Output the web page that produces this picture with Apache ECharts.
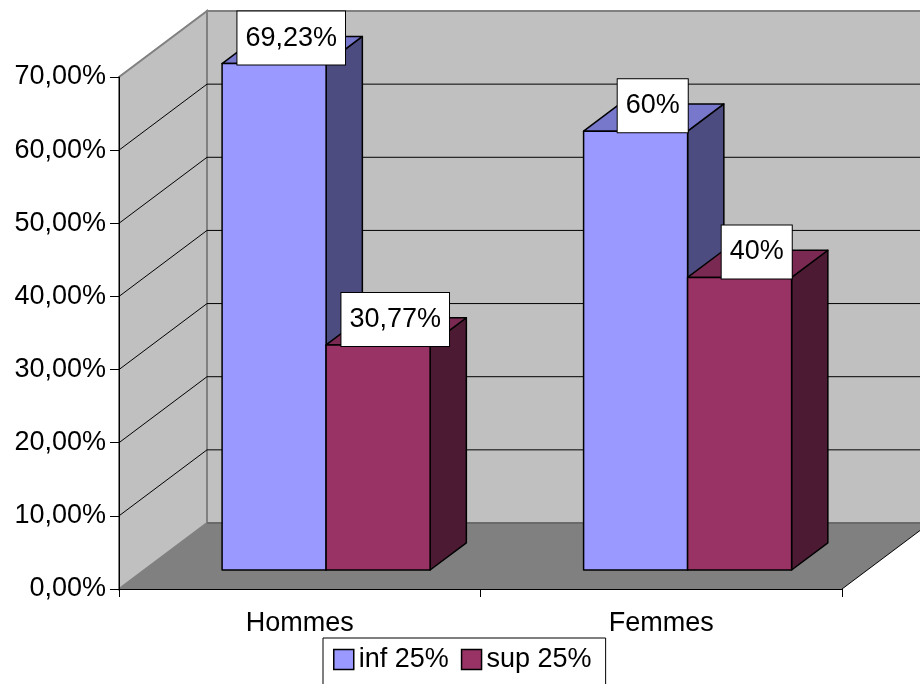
<!DOCTYPE html>
<html>
<head>
<meta charset="utf-8">
<script src="https://cdn.jsdelivr.net/npm/echarts@6/dist/echarts.min.js"></script>
<style>
  html, body { margin: 0; padding: 0; background: #fff; }
  #chart { width: 920px; height: 684px; }
</style>
</head>
<body>
<div id="chart"></div>
<script>
// Share of each group below / above 25 %, in percent
const categories = ['Hommes', 'Femmes'];
const seriesNames = ['inf 25%', 'sup 25%'];
const infValues = [69.23, 60];
const supValues = [30.77, 40];
const yTicks = [0, 10, 20, 30, 40, 50, 60, 70];

const FONT = '"Liberation Sans", Arial, sans-serif';
const DEPTH = [88, -66];      // screen shift from the front plane to the back wall
const BAR_Z = [0.288, 0.70];  // bar front and back, as fractions of the depth
const BAR_W = 0.2877;         // one bar's width as a fraction of a category band

const palettes = [
  { front: '#9999FF', top: '#7777CC', side: '#4C4C80' },
  { front: '#993366', top: '#7A2952', side: '#4D1A33' }
];

function fmtAxis(v) { return v.toFixed(2).replace('.', ',') + '%'; }
function fmtLabel(v) { return String(v).replace('.', ',') + '%'; }

function shift(p, z) { return [p[0] + DEPTH[0] * z, p[1] + DEPTH[1] * z]; }

// Side walls, floor and the gridlines painted on them
function renderWalls(params, api) {
  const cs = params.coordSys;
  const x0 = cs.x, x1 = cs.x + cs.width;
  const yB = api.coord([0, yTicks[0]])[1];
  const yT = api.coord([0, yTicks[yTicks.length - 1]])[1];
  const dx = DEPTH[0], dy = DEPTH[1];
  const children = [];
  // back wall
  children.push({ type: 'polygon', shape: { points: [[x0 + dx, yB + dy], [x1 + dx, yB + dy], [x1 + dx, yT + dy], [x0 + dx, yT + dy]] },
    style: { fill: '#C0C0C0', stroke: '#808080', lineWidth: 2 } });
  // left wall
  children.push({ type: 'polygon', shape: { points: [[x0, yB], [x0 + dx, yB + dy], [x0 + dx, yT + dy], [x0, yT]] },
    style: { fill: '#C0C0C0', stroke: '#808080', lineWidth: 2 } });
  // gridlines
  yTicks.slice(1, -1).forEach(function (t) {
    const y = api.coord([0, t])[1];
    children.push({ type: 'polyline', shape: { points: [[x0, y], [x0 + dx, y + dy], [x1 + dx, y + dy]] },
      style: { stroke: '#000', lineWidth: 1, fill: null } });
  });
  // floor
  children.push({ type: 'polygon', shape: { points: [[x0, yB], [x1, yB], [x1 + dx, yB + dy], [x0 + dx, yB + dy]] },
    style: { fill: '#808080', stroke: null } });
  children.push({ type: 'line', shape: { x1: x0 + dx, y1: yB + dy, x2: x1 + dx, y2: yB + dy },
    style: { stroke: '#6A6A6A', lineWidth: 2 } });
  children.push({ type: 'line', shape: { x1: x1, y1: yB, x2: x1 + dx, y2: yB + dy },
    style: { stroke: '#000', lineWidth: 1 } });
  return { type: 'group', children: children };
}

// 3D prism for one bar, plus its value box
function makeBarRenderer(k) {
  const pal = palettes[k];
  return function (params, api) {
    const i = api.value(0), v = api.value(1);
    const base = api.coord([i, 0]);
    const top = api.coord([i, v]);
    const band = api.size([1, 0])[0];
    const w = band * BAR_W;
    const L = base[0] + 1 + (k === 0 ? -w : 0), R = L + w;
    const B = base[1], T = top[1];
    const zf = BAR_Z[0], zb = BAR_Z[1];
    const fLB = shift([L, B], zf), fRB = shift([R, B], zf), fRT = shift([R, T], zf), fLT = shift([L, T], zf);
    const bRB = shift([R, B], zb), bRT = shift([R, T], zb), bLT = shift([L, T], zb);
    const edge = { stroke: '#000', lineWidth: 1.5, lineJoin: 'round' };
    const cx = (fLT[0] + fRT[0]) / 2 + (bRT[0] - fRT[0]) / 2 - 1;
    return {
      type: 'group',
      children: [
        { type: 'polygon', shape: { points: [fRB, bRB, bRT, fRT] }, style: Object.assign({ fill: pal.side }, edge) },
        { type: 'polygon', shape: { points: [fLT, fRT, bRT, bLT] }, style: Object.assign({ fill: pal.top }, edge) },
        { type: 'polygon', shape: { points: [fLB, fRB, fRT, fLT] }, style: Object.assign({ fill: pal.front }, edge) },
        { type: 'text', z2: 100,
          style: { text: fmtLabel(v), x: cx, y: fLT[1] + 1, align: 'center', verticalAlign: 'bottom',
            font: '27px ' + FONT, fill: '#000', backgroundColor: '#fff', borderColor: '#000', borderWidth: 1,
            padding: [13, 8, 13, 8] } }
      ]
    };
  };
}

const chart = echarts.init(document.getElementById('chart'), null, { renderer: 'canvas' });
chart.setOption({
  animation: false,
  backgroundColor: '#fff',
  grid: { left: 119, right: 78, top: 77, bottom: 95, containLabel: false },
  legend: {
    data: seriesNames,
    left: 323, top: 638,
    orient: 'horizontal',
    itemWidth: 20, itemHeight: 20, itemGap: 12,
    icon: 'rect',
    padding: [8, 14, 20, 10],
    borderColor: '#000', borderWidth: 1, backgroundColor: '#fff',
    itemStyle: { borderColor: '#000', borderWidth: 1.5 },
    textStyle: { fontFamily: FONT, fontSize: 27, color: '#000' }
  },
  xAxis: {
    type: 'category', data: categories, boundaryGap: true, z: 10,
    axisLine: { lineStyle: { color: '#000', width: 1 } },
    axisTick: { show: true, length: 8, lineStyle: { color: '#000' } },
    axisLabel: { fontFamily: FONT, fontSize: 27, color: '#000', margin: 21 },
    splitLine: { show: false }
  },
  yAxis: {
    type: 'value', z: 10,
    min: yTicks[0], max: yTicks[yTicks.length - 1], interval: yTicks[1] - yTicks[0],
    axisLine: { show: true, lineStyle: { color: '#000', width: 1 } },
    axisTick: { show: true, length: 9, lineStyle: { color: '#000' } },
    axisLabel: { fontFamily: FONT, fontSize: 27, color: '#000', margin: 13, formatter: fmtAxis },
    splitLine: { show: false }
  },
  series: [
    { type: 'custom', name: '_walls', z: 1, silent: true, renderItem: renderWalls, data: [[0, 0]] },
    { type: 'custom', name: seriesNames[0], z: 2, itemStyle: { color: palettes[0].front },
      renderItem: makeBarRenderer(0), data: infValues.map(function (v, i) { return [i, v]; }) },
    { type: 'custom', name: seriesNames[1], z: 2, itemStyle: { color: palettes[1].front },
      renderItem: makeBarRenderer(1), data: supValues.map(function (v, i) { return [i, v]; }) }
  ]
});
</script>
</body>
</html>
